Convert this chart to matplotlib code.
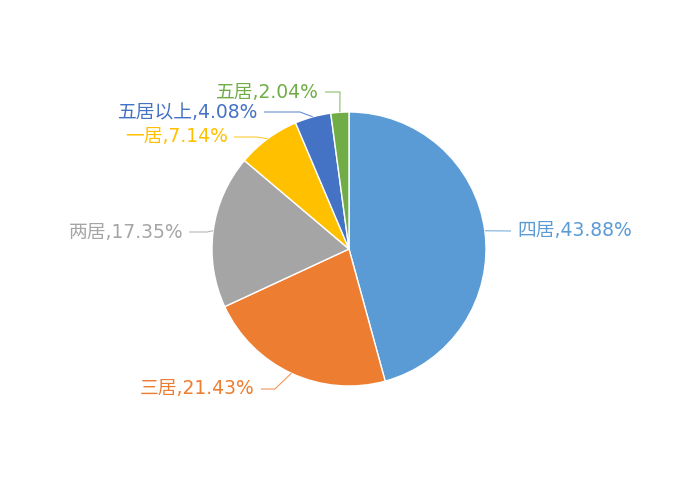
import numpy as np
import matplotlib
matplotlib.use("Agg")
import matplotlib.pyplot as plt

plt.rcParams['font.family'] = ['DejaVu Sans', 'Noto Sans CJK SC']

categories = ['四居', '三居', '两居', '一居', '五居以上', '五居']
values = [43.88, 21.43, 17.35, 7.14, 4.08, 2.04]
colors = ['#5B9BD5', '#ED7D31', '#A5A5A5', '#FFC000', '#4472C4', '#70AD47']

# layout: text anchor (x, y in pixel-like coords, y up), alignment, elbow x
label_layout = {
    '四居':   (517, 269, 'left', 510),
    '三居':   (255, 111, 'right', 275),
    '两居':   (183, 268, 'right', 207),
    '一居':   (228, 363, 'right', 256),
    '五居以上': (258, 388, 'right', 300),
    '五居':   (319, 408, 'right', 340),
}

W, H = 700, 500
fig = plt.figure(figsize=(7, 5), dpi=100)
ax = fig.add_axes([0, 0, 1, 1])
ax.set_xlim(0, W)
ax.set_ylim(0, H)
ax.set_aspect('equal')
ax.axis('off')

cx, cy, R = 349, 251, 137
wedges, _ = ax.pie(values, colors=colors, startangle=90, counterclock=False,
                   center=(cx, cy), radius=R, frame=True,
                   wedgeprops=dict(edgecolor='white', linewidth=1.0))
ax.set_xlim(0, W)
ax.set_ylim(0, H)
ax.axis('off')

for w, cat, val, col in zip(wedges, categories, values, colors):
    mid = np.deg2rad((w.theta1 + w.theta2) / 2)
    ex, ey = cx + R * np.cos(mid), cy + R * np.sin(mid)
    tx, ty, ha, elx = label_layout[cat]
    gap = 6 if ha == 'right' else -6
    ax.plot([ex, elx, tx + gap], [ey, ty, ty], color=col, lw=0.8, alpha=0.8,
            solid_capstyle='butt')
    ax.text(tx, ty, f'{cat},{val:.2f}%', color=col, fontsize=13.5,
            ha=ha, va='center')

fig.savefig('out.png', dpi=100)
